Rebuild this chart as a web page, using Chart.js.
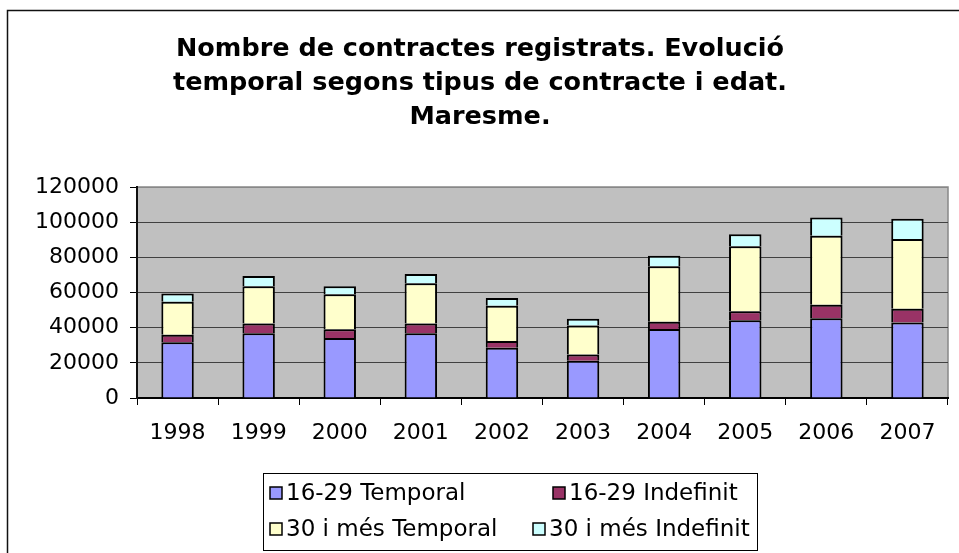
<!DOCTYPE html>
<html>
<head>
<meta charset="utf-8">
<script src="https://cdn.jsdelivr.net/npm/chart.js@4.4.0/dist/chart.umd.min.js"></script>
<style>
  body { margin: 0; background: #fff; }
  canvas { display: block; }
</style>
</head>
<body>
<canvas id="chartContractes" width="959" height="553"></canvas>
<script>
// dades (llegides del gràfic)
var anys = ['1998', '1999', '2000', '2001', '2002', '2003', '2004', '2005', '2006', '2007'];
var temporal1629 = [31700, 36800, 34100, 36800, 28600, 21200, 39200, 44200, 45300, 43000];
var indefinit1629 = [4300, 5500, 5000, 5500, 3800, 3600, 4200, 5100, 7800, 7800];
var temporal30 = [18800, 21200, 19900, 22900, 20100, 16500, 31500, 37000, 39200, 39600];
var indefinit30 = [4700, 5900, 4500, 5300, 4400, 3800, 6000, 6800, 10300, 11600];
var titol = ['Nombre de contractes registrats. Evolució', 'temporal segons tipus de contracte i edat.', 'Maresme.'];
var valorsEix = [0, 20000, 40000, 60000, 80000, 100000, 120000];

var font = 'DejaVu Sans';

// fons blanc, marc exterior i fons gris de l'area del grafic
var fonsPlugin = {
  id: 'fons',
  beforeDraw: function(chart) {
    var ctx = chart.ctx;
    var a = chart.chartArea;
    ctx.save();
    ctx.fillStyle = '#fff';
    ctx.fillRect(0, 0, chart.width, chart.height);
    ctx.strokeStyle = '#111';
    ctx.lineWidth = 1.5;
    ctx.beginPath();
    ctx.moveTo(7.5, chart.height);
    ctx.lineTo(7.5, 10.5);
    ctx.lineTo(chart.width, 10.5);
    ctx.stroke();
    ctx.fillStyle = '#c0c0c0';
    ctx.fillRect(a.left, a.top, a.right - a.left, a.bottom - a.top);
    ctx.strokeStyle = '#888';
    ctx.lineWidth = 1.5;
    ctx.strokeRect(a.left, a.top, a.right - a.left, a.bottom - a.top);
    ctx.restore();
  }
};

// llegenda de dues files amb requadre
var llegendaPlugin = {
  id: 'llegenda',
  afterDraw: function(chart) {
    var ctx = chart.ctx;
    var ds = chart.data.datasets;
    var posX = [[270, 553], [270, 533]];
    var files = [493, 529];
    ctx.save();
    ctx.strokeStyle = '#000';
    ctx.lineWidth = 1;
    ctx.strokeRect(263.5, 473.5, 494, 77);
    ctx.font = '23px "' + font + '"';
    ctx.textBaseline = 'middle';
    ctx.textAlign = 'left';
    ds.forEach(function(d, i) {
      var fila = Math.floor(i / 2);
      var x = posX[fila][i % 2];
      var y = files[fila];
      ctx.fillStyle = d.backgroundColor;
      ctx.fillRect(x, y - 6, 12, 12);
      ctx.lineWidth = 1.5;
      ctx.strokeStyle = '#000';
      ctx.strokeRect(x, y - 6, 12, 12);
      ctx.fillStyle = '#000';
      ctx.fillText(d.label, x + 16, y + 1);
    });
    ctx.restore();
  }
};

var grafic = document.getElementById('chartContractes').getContext('2d');
var chart = new Chart(grafic, {
  type: 'bar',
  data: {
    labels: anys,
    datasets: [
      { label: '16-29 Temporal', data: temporal1629, backgroundColor: '#9999ff' },
      { label: '16-29 Indefinit', data: indefinit1629, backgroundColor: '#993366' },
      { label: '30 i més Temporal', data: temporal30, backgroundColor: '#ffffcc' },
      { label: '30 i més Indefinit', data: indefinit30, backgroundColor: '#ccffff' }
    ]
  },
  options: {
    responsive: false,
    animation: false,
    devicePixelRatio: 1,
    layout: { padding: { left: 12, right: 11, top: 0, bottom: 0 } },
    datasets: {
      bar: {
        borderColor: '#000',
        borderWidth: 2,
        borderSkipped: 'start',
        barPercentage: 0.4,
        categoryPercentage: 1
      }
    },
    plugins: {
      legend: { display: false },
      tooltip: { enabled: false },
      title: {
        display: true,
        text: titol,
        color: '#000',
        font: { family: font, size: 25.5, weight: 'bold', lineHeight: 34 / 25.5 },
        padding: { top: 32, bottom: 53 }
      }
    },
    scales: {
      x: {
        stacked: true,
        afterFit: function(scale) { scale.height = 155; },
        grid: {
          offset: true,
          drawOnChartArea: false,
          tickLength: 7,
          tickColor: '#000'
        },
        border: { color: '#000', width: 2 },
        ticks: { color: '#000', padding: 15, font: { family: font, size: 22 } }
      },
      y: {
        stacked: true,
        min: 0,
        max: 120000,
        afterFit: function(scale) { scale.width = 125; },
        afterBuildTicks: function(scale) {
          scale.ticks = valorsEix.map(function(v) { return { value: v }; });
        },
        grid: {
          color: function(c) { return c.tick && c.tick.value === 120000 ? '#888' : '#404040'; },
          tickLength: 7,
          tickColor: '#000'
        },
        border: { color: '#111', width: 2 },
        ticks: {
          color: '#000',
          padding: 11,
          font: { family: font, size: 22 },
          callback: function(v) { return String(v); }
        }
      }
    }
  },
  plugins: [fonsPlugin, llegendaPlugin]
});
</script>
</body>
</html>
